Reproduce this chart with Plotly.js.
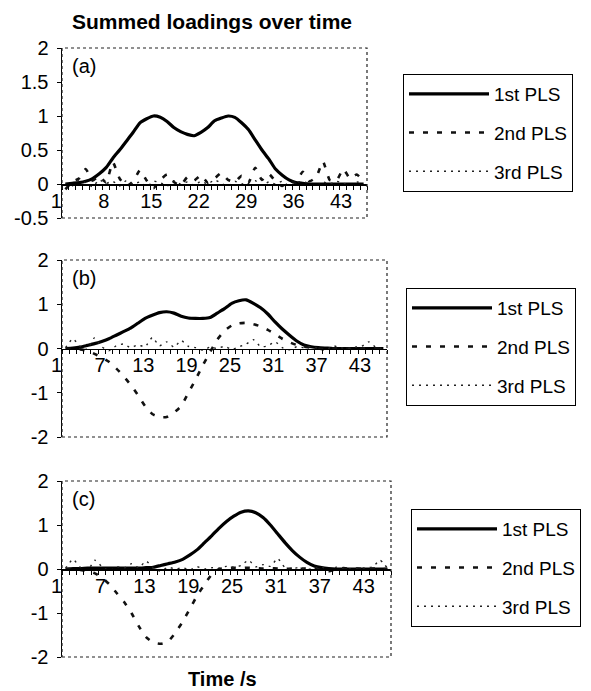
<!DOCTYPE html>
<html><head><meta charset="utf-8">
<script src="https://cdn.plot.ly/plotly-3.0.1.min.js"></script>
<style>html,body{margin:0;padding:0;background:#fff;}#chart{width:591px;height:691px;}</style>
</head><body><div id="chart"></div>
<script>
// ---------- data ----------
const categories = [1,2,3,4,5,6,7,8,9,10,11,12,13,14,15,16,17,18,19,20,21,22,23,24,25,26,27,28,29,30,31,32,33,34,35,36,37,38,39,40,41,42,43,44,45];
const seriesNames = ["1st PLS", "2nd PLS", "3rd PLS"];
const panelLabels = ["(a)", "(b)", "(c)"];

// panel (a)
const a_pls1 = [0,0.01,0.02,0.04,0.08,0.15,0.24,0.38,0.5,0.63,0.76,0.9,0.96,1.0,0.98,0.92,0.83,0.77,0.73,0.71,0.76,0.83,0.93,0.97,1.0,0.98,0.9,0.8,0.65,0.5,0.37,0.22,0.13,0.06,0.02,0.01,0,0,0,0,0,0,0,0,0];
const a_pls2 = [-0.08,0.03,0.08,0.22,0.05,0.12,0.02,0.32,0.08,-0.03,0.04,0.2,0.05,-0.06,0.06,0.14,0.03,-0.02,0.1,0.05,0.13,0.02,0.08,0.16,0.06,0.03,0.12,0.02,0.24,0.06,0.15,0.04,-0.03,0.05,0.02,0.18,0.04,0.1,0.33,0.06,0.05,0.22,0.08,0.14,0.03];
const a_pls3 = [0,-0.03,0.05,0.02,-0.04,0.06,0.01,0.04,-0.03,0.05,0.0,0.03,-0.04,0.04,0.02,-0.03,0.05,0.0,0.03,-0.02,0.04,0.0,0.06,0.01,-0.03,0.04,0.0,0.03,0.05,-0.02,0.03,0.0,0.04,-0.03,0.02,0.04,0.0,-0.03,0.03,0.0,0.04,0.01,-0.02,0.03,0.0];

// panel (b)
const b_pls1 = [0,0.01,0.03,0.07,0.11,0.16,0.22,0.3,0.38,0.46,0.57,0.68,0.75,0.81,0.83,0.8,0.73,0.69,0.68,0.68,0.7,0.8,0.9,1.02,1.08,1.1,1.02,0.92,0.78,0.6,0.44,0.3,0.17,0.08,0.04,0.02,0.01,0,0,0,0,0,0,0,0];
const b_pls2 = [0,-0.01,-0.02,-0.05,-0.12,-0.2,-0.3,-0.45,-0.62,-0.82,-1.05,-1.3,-1.48,-1.55,-1.55,-1.45,-1.3,-1.0,-0.7,-0.38,-0.08,0.2,0.4,0.52,0.57,0.58,0.55,0.5,0.42,0.32,0.22,0.14,0.08,0.04,0.02,0.0,-0.02,0.0,0.01,0,-0.01,0,0.01,0,0];
const b_pls3 = [0.02,0.22,0.05,-0.02,0.24,0.04,-0.05,0.06,0.1,0.02,0.08,0.04,0.25,0.06,0.15,0.03,0.18,0.05,0.02,-0.04,0.03,0.0,0.05,-0.02,0.04,0.1,0.2,0.04,0.06,0.15,0.02,-0.03,0.04,0.02,0.05,0.0,-0.04,0.06,0.02,0.0,0.03,0.05,0.15,0.02,0.0];

// panel (c)
const c_pls1 = [0,0.01,0.01,0.02,0.02,0.02,0.02,0.02,0.02,0.02,0.02,0.03,0.04,0.08,0.12,0.16,0.22,0.32,0.44,0.6,0.76,0.93,1.08,1.2,1.29,1.32,1.28,1.17,1.0,0.8,0.6,0.42,0.27,0.15,0.07,0.03,0.01,0,0,0,0,0,0,0,0];
const c_pls2 = [0,0,-0.02,-0.05,-0.1,-0.2,-0.35,-0.55,-0.75,-1.0,-1.3,-1.55,-1.67,-1.7,-1.65,-1.45,-1.2,-0.9,-0.6,-0.35,-0.12,0.0,0.02,0.03,0.02,0.03,0.02,0.01,0.02,0.01,0.0,0.01,0.0,0.02,0.0,-0.02,-0.05,0.0,0.02,0,0.01,0,0.01,0,0];
const c_pls3 = [0.02,0.22,0.04,-0.03,0.2,0.05,-0.04,0.05,0.02,0.12,0.03,0.18,0.02,-0.05,0.04,0.0,0.03,-0.02,0.05,0.0,0.03,0.02,0.06,0.04,0.08,0.2,0.05,0.1,0.06,0.24,0.03,0.0,0.04,-0.02,0.03,0.05,-0.03,0.04,0.02,0.0,0.03,0.02,0.05,0.2,0.02];

const xTicksA = [1,8,15,22,29,36,43];
const xTicksBC = [1,7,13,19,25,31,37,43];
const yTicksA = [-0.5,0,0.5,1,1.5,2];
const yTextA = ["-0.5","0","0.5","1","1.5","2"];
const yTicksBC = [-2,-1,0,1,2];
const yTextBC = ["-2","-1","0","1","2"];

// ---------- layout geometry (pixels) ----------
const W = 591, H = 691;
const panels = [
  {x0:62, x1:367, yTop:48,  yBot:218, yr:[-0.5,2], ys:[a_pls1,a_pls2,a_pls3], xt:xTicksA, yt:yTicksA, ytt:yTextA, leg:{x:403,y:74}},
  {x0:62, x1:387, yTop:260, yBot:437, yr:[-2,2],   ys:[b_pls1,b_pls2,b_pls3], xt:xTicksBC, yt:yTicksBC, ytt:yTextBC, leg:{x:406,y:288}},
  {x0:62, x1:391, yTop:481, yBot:657, yr:[-2,2],   ys:[c_pls1,c_pls2,c_pls3], xt:xTicksBC, yt:yTicksBC, ytt:yTextBC, leg:{x:411,y:509}}
];
const FONT = "Liberation Sans, Arial, sans-serif";
const lineStyles = [
  {color:"#000", width:3.2, dash:"solid"},
  {color:"#111", width:2.6, dash:"5px,9px"},
  {color:"#222", width:1.4, dash:"2px,5px"}
];

const traces = [];
const layout = {
  width: W, height: H,
  margin: {l:0, r:0, t:0, b:0},
  paper_bgcolor: "#fff", plot_bgcolor: "#fff",
  font: {family: FONT, size: 20, color: "#000"},
  showlegend: true,
  title: {text: "<b>Summed loadings over time</b>", x: 212/W, xanchor: "center", y: 1-22/H, yanchor: "middle", font: {family: FONT, size: 21, color:"#000"}},
  shapes: [], annotations: []
};

panels.forEach((p, i) => {
  const sfx = i === 0 ? "" : String(i+1);
  const xa = "xaxis" + sfx, ya = "yaxis" + sfx;
  const domB = 1 - p.yBot/H, domT = 1 - p.yTop/H;
  const zeroPos = domB + (0 - p.yr[0])/(p.yr[1]-p.yr[0]) * (domT - domB);
  layout[xa] = {
    domain: [p.x0/W, p.x1/W], anchor: "free", position: zeroPos,
    range: [0.5, 45.5], showline: true, linecolor: "#000", linewidth: 1.5,
    tickmode: "array", tickvals: p.xt, ticktext: p.xt.map(String),
    ticks: "", showgrid: false, zeroline: false,
    minor: {tickmode: "linear", tick0: 0.5, dtick: 1, ticks: "outside", ticklen: 4, tickcolor: "#000", tickwidth: 1, showgrid: false},
    ticklabelshift: -9, ticklabelstandoff: -2,
    tickfont: {family: FONT, size: 20, color: "#000"}, fixedrange: true
  };
  layout[ya] = {
    domain: [domB, domT], anchor: "x" + sfx, range: p.yr,
    showline: true, linecolor: "#000", linewidth: 1.5,
    tickmode: "array", tickvals: p.yt, ticktext: p.ytt,
    ticks: "outside", ticklen: 4, tickcolor: "#000",
    showgrid: false, zeroline: false, ticklabelstandoff: 4,
    tickfont: {family: FONT, size: 20, color: "#000"}, fixedrange: true
  };
  const legName = i === 0 ? "legend" : "legend" + (i+1);
  layout[legName] = {
    x: p.leg.x/W, y: 1 - p.leg.y/H, xanchor: "left", yanchor: "top",
    bgcolor: "#fff", bordercolor: "#000", borderwidth: 1,
    font: {family: FONT, size: 19, color: "#000"},
    itemwidth: 80, tracegroupgap: 11
  };
  p.ys.forEach((vals, k) => {
    traces.push({
      type: "scatter", mode: "lines", x: categories, y: vals,
      name: seriesNames[k], legend: legName, legendgroup: "g"+i+"_"+k,
      xaxis: "x" + sfx, yaxis: "y" + sfx,
      line: Object.assign({shape: "spline", smoothing: 0.5}, lineStyles[k]),
      hoverinfo: "skip"
    });
  });
  layout.shapes.push({type: "rect", xref: "x" + sfx + " domain", yref: "y" + sfx + " domain",
    x0: 0, x1: 1, y0: 0, y1: 1, line: {color: "#222", width: 1.2, dash: "dot"}, layer: "above"});
  layout.annotations.push({text: panelLabels[i], xref: "x" + sfx + " domain", yref: "y" + sfx + " domain",
    x: 0.025, y: 0.97, xanchor: "left", yanchor: "top", showarrow: false,
    font: {family: FONT, size: 20, color: "#000"}});
});
layout.annotations.push({text: "<b>Time /s</b>", xref: "paper", yref: "paper", x: 222/W, y: 1 - 679/H,
  xanchor: "center", yanchor: "middle", showarrow: false, font: {family: FONT, size: 20, color: "#000"}});

Plotly.newPlot("chart", traces, layout, {staticPlot: true, displayModeBar: false});
</script></body></html>
